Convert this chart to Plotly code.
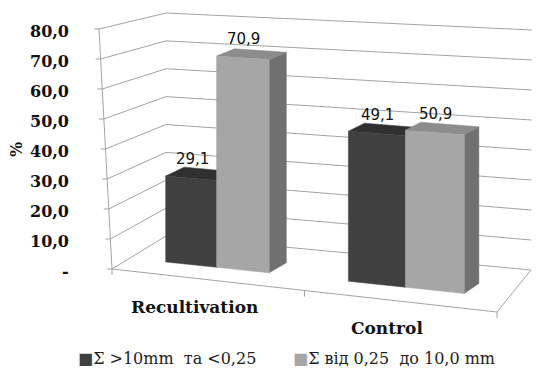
import numpy as np
import plotly.graph_objects as go

# ---- data -------------------------------------------------------------
categories = ["Recultivation", "Control"]
series_names = ["Σ &gt;10mm\u00a0\u00a0та &lt;0,25", "Σ від 0,25\u00a0\u00a0до 10,0 mm"]
share_coarse_fine = [29.1, 49.1]   # Σ >10mm та <0,25
share_medium = [70.9, 50.9]        # Σ від 0,25 до 10,0 mm
value_ticks = [0, 10, 20, 30, 40, 50, 60, 70, 80]
axis_title = "%"

series_values = [share_coarse_fine, share_medium]

# ---- styling ----------------------------------------------------------
W, H = 538, 370
ZMAX = value_ticks[-1]
FRONT_COL = ["#404040", "#a6a6a6"]
TOP_COL = ["#303030", "#8c8c8c"]
SIDE_COL = ["#262626", "#707070"]
GRID_COL = "#a3a3a3"
SERIF_B = dict(family="DejaVu Serif", size=16, color="#111111", weight="bold")

# screen corners of the 3-D plot box: (u, depth, height) -> pixel
BOX = {
    (0, 0, 0): (112, 269), (0, 0, 1): (99, 29),
    (0, 1, 0): (166, 236), (0, 1, 1): (166, 13),
    (1, 0, 0): (497, 312), (1, 0, 1): (505, 55),
    (1, 1, 0): (531, 270), (1, 1, 1): (532, 30),
}
BAR_DEPTH = 0.33   # front plane of the columns inside the box
GROUP_W = 0.29     # width of one category cluster along the floor
WARP = 0.12        # perspective stretch along the category axis


def proj(u, d, z):
    t = z / ZMAX
    p = np.zeros(2)
    for (a, b, c), xy in BOX.items():
        w = (u if a else 1 - u) * (d if b else 1 - d) * (t if c else 1 - t)
        p += w * np.asarray(xy, float)
    return p


def warp(u):
    return u / (1 + WARP * (1 - u))


def depth_vec(u, z):
    return np.array([19 - 5 * u, -(10 - 3 * z / ZMAX)])


def fmt(v):
    return "-" if v == 0 else f"{v:.1f}".replace(".", ",")


fig = go.Figure()


def seg(p, q, color=GRID_COL, width=1):
    fig.add_trace(go.Scatter(x=[p[0], q[0]], y=[p[1], q[1]], mode="lines",
                             line=dict(color=color, width=width),
                             hoverinfo="skip", showlegend=False))


def poly(pts, color):
    xs = [p[0] for p in pts] + [pts[0][0]]
    ys = [p[1] for p in pts] + [pts[0][1]]
    fig.add_trace(go.Scatter(x=xs, y=ys, mode="lines", fill="toself",
                             fillcolor=color, line=dict(color=color, width=0.5),
                             hoverinfo="skip", showlegend=False))


# walls: gridlines on side wall and back wall
for z in value_ticks:
    seg(proj(0, 0, z), proj(0, 1, z))
    seg(proj(0, 1, z), proj(1, 1, z))
    # tick mark on the value axis
    a = proj(0, 0, z)
    seg(a - np.array([5, 0]), a)
# value axis line
seg(proj(0, 0, 0), proj(0, 0, ZMAX))
# floor outline
seg(proj(0, 0, 0), proj(1, 0, 0))
seg(proj(1, 0, 0), proj(1, 1, 0))
for u in [0, 0.5, 1]:
    a = proj(u, 0, 0)
    seg(a, a + np.array([0, 6]))

# columns
n_cat = len(categories)
n_ser = len(series_values)
bar_w = GROUP_W / n_ser
labels = []
for i in range(n_cat):
    center = (i + 0.5) / n_cat
    for j in range(n_ser):
        v = series_values[j][i]
        u0 = warp(center - GROUP_W / 2 + j * bar_w)
        u1 = warp(center - GROUP_W / 2 + (j + 1) * bar_w)
        b0 = proj(u0, BAR_DEPTH, 0)
        b1 = proj(u1, BAR_DEPTH, 0)
        t0 = np.array([b0[0], proj(u0, BAR_DEPTH, v)[1]])
        t1 = np.array([b1[0], proj(u1, BAR_DEPTH, v)[1]])
        dv0b, dv1b = depth_vec(u0, 0), depth_vec(u1, 0)
        dv0t, dv1t = depth_vec(u0, v), depth_vec(u1, v)
        poly([b1, t1, t1 + dv1t, b1 + dv1b], SIDE_COL[j])
        poly([t0, t1, t1 + dv1t, t0 + dv0t], TOP_COL[j])
        poly([b0, b1, t1, t0], FRONT_COL[j])
        c = (t0 + t1) / 2
        labels.append((c[0] + 1, c[1] - 19, fmt(v)))

annotations = []
for x, y, txt in labels:
    annotations.append(dict(x=x, y=y, text=txt, showarrow=False,
                            xanchor="center", yanchor="middle",
                            font=dict(family="DejaVu Sans", size=15, color="#111111")))

# value axis labels
for z in value_ticks:
    a = proj(0, 0, z)
    annotations.append(dict(x=71, y=a[1] + 2, text=fmt(z), showarrow=False,
                            xanchor="right", yanchor="middle", font=SERIF_B))
annotations.append(dict(x=16, y=150, text=axis_title, showarrow=False, textangle=-90,
                        xanchor="center", yanchor="middle", font=SERIF_B))

# category labels under the floor
for i, cat in enumerate(categories):
    a = proj((i + 0.5) / n_cat, 0, 0)
    annotations.append(dict(x=a[0] - 14, y=a[1] + 27, text=cat, showarrow=False,
                            xanchor="center", yanchor="middle",
                            font=dict(family="DejaVu Serif", size=17, color="#111111",
                                      weight="bold")))

# legend
legend_x = [76, 291]
for j, name in enumerate(series_names):
    annotations.append(dict(
        x=legend_x[j], y=358, showarrow=False, xanchor="left", yanchor="middle",
        text=f'<span style="color:{FRONT_COL[j]}">■</span>{name}',
        font=dict(family="DejaVu Serif", size=16, color="#222222")))

fig.update_layout(
    width=W, height=H,
    margin=dict(l=0, r=0, t=0, b=0),
    paper_bgcolor="white", plot_bgcolor="white",
    xaxis=dict(range=[0, W], visible=False, fixedrange=True),
    yaxis=dict(range=[H, 0], visible=False, fixedrange=True),
    annotations=annotations,
    showlegend=False,
)

fig.write_html("out.html")
